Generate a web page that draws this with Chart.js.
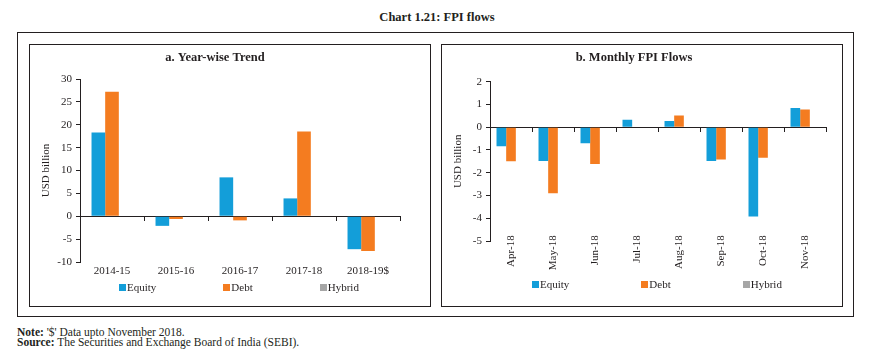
<!DOCTYPE html>
<html>
<head>
<meta charset="utf-8">
<script src="https://cdn.jsdelivr.net/npm/chart.js@4.4.0/dist/chart.umd.min.js"></script>
<style>
  body { margin: 0; background: #fff; font-family: "Liberation Serif", serif; color: #231f20; }
  #page { position: relative; width: 874px; height: 361px; overflow: hidden; }
  #title { position: absolute; left: 0; top: 10px; width: 874px; text-align: center; font-weight: bold; font-size: 12.5px; }
  #outer { position: absolute; left: 17px; top: 32px; width: 837px; height: 285px; border: 1px solid #231f20; box-sizing: border-box; }
  .panel { position: absolute; top: 44px; width: 402px; height: 263px; border: 1px solid #231f20; box-sizing: border-box; }
  #pa { left: 29px; }
  #pb { left: 441px; }
  .panel canvas { position: absolute; left: 0; top: 0; }
  .legend { position: absolute; display: flex; font-size: 11px; line-height: 12px; white-space: nowrap; }
  .legend span { display: flex; align-items: center; }
  .legend i { display: inline-block; width: 7px; height: 7px; margin-right: 1px; }
  #la { left: 89px; top: 236px; gap: 67px; }
  #lb { left: 90px; top: 233px; gap: 72px; }
  #notes { position: absolute; left: 17px; top: 327px; font-size: 11.5px; line-height: 10px; }
</style>
</head>
<body>
<div id="page">
  <div id="title">Chart 1.21: FPI flows</div>
  <div id="outer"></div>
  <div class="panel" id="pa"><canvas id="chartA" width="400" height="261"></canvas><div class="legend" id="la"></div></div>
  <div class="panel" id="pb"><canvas id="chartB" width="400" height="261"></canvas><div class="legend" id="lb"></div></div>
  <div id="notes">
    <div><b>Note:</b> '$' Data upto November 2018.</div>
    <div><b>Source:</b> The Securities and Exchange Board of India (SEBI).</div>
  </div>
</div>
<script>
// Year-wise data (USD billion)
const yearLabels = ['2014-15', '2015-16', '2016-17', '2017-18', '2018-19$'];
const yearEquity = [18.3, -2.1, 8.5, 3.9, -7.2];
const yearDebt = [27.2, -0.6, -0.9, 18.5, -7.6];
const yearHybrid = [0, 0, 0, 0, 0];
const yearTicks = [-10, 30, 5];

// Monthly data (USD billion)
const monthLabels = ['Apr-18', 'May-18', 'Jun-18', 'Jul-18', 'Aug-18', 'Sep-18', 'Oct-18', 'Nov-18'];
const monthEquity = [-0.84, -1.48, -0.7, 0.33, 0.27, -1.48, -3.92, 0.84];
const monthDebt = [-1.5, -2.9, -1.62, 0, 0.51, -1.42, -1.34, 0.78];
const monthHybrid = [0, 0, 0, 0, 0, 0, 0, 0];
const monthTicks = [-5, 2, 1];

const seriesNames = ['Equity', 'Debt', 'Hybrid'];
const seriesColors = ['#139ed9', '#f47c20', '#a6a6a6'];

const ink = '#231f20';
const serif = '"Liberation Serif", serif';

function makeChart(id, title, labels, values, ticks, lay) {
    return new Chart(document.getElementById(id), {
        type: 'bar',
        data: {
            labels: labels,
            datasets: values.map((v, i) => ({
                label: seriesNames[i],
                data: v,
                backgroundColor: seriesColors[i],
                borderWidth: 0,
                categoryPercentage: lay.catPct,
                barPercentage: 1
            }))
        },
        options: {
            responsive: false,
            animation: false,
            layout: { padding: { left: 0, right: lay.padRight, top: 0, bottom: lay.padBottom } },
            scales: {
                // zero line with the category tick marks
                x: {
                    type: 'category',
                    position: { y: 0 },
                    offset: true,
                    grid: { offset: true, drawOnChartArea: false, drawTicks: true, tickLength: 4, color: ink },
                    border: { display: true, color: ink, width: 1 },
                    ticks: { display: false },
                    afterFit: s => { s.height = 0; }
                },
                // category labels
                xl: {
                    type: 'category',
                    axis: 'x',
                    position: lay.labelPos,
                    offset: true,
                    grid: { display: false },
                    border: { display: false },
                    ticks: {
                        color: ink,
                        font: { family: serif, size: 11 },
                        padding: lay.labelPad,
                        minRotation: lay.rot,
                        maxRotation: lay.rot,
                        autoSkip: false
                    },
                    afterFit: s => { s.height = lay.xlHeight; }
                },
                y: {
                    min: ticks[0],
                    max: ticks[1],
                    grid: { drawOnChartArea: false, drawTicks: true, tickLength: 4, color: ink },
                    border: { display: true, color: ink, width: 1 },
                    ticks: { stepSize: ticks[2], color: ink, padding: 4, font: { family: serif, size: 11 } },
                    title: { display: true, text: 'USD billion', color: ink, font: { family: serif, size: 11 }, padding: { top: 10, bottom: 0 } },
                    afterFit: s => { s.width = lay.yWidth; }
                }
            },
            plugins: {
                legend: { display: false },
                tooltip: { enabled: false },
                title: {
                    display: true,
                    text: title,
                    color: ink,
                    font: { family: serif, size: 12.5, weight: 'bold' },
                    padding: { top: 5.5, bottom: lay.titleBottom }
                }
            }
        }
    });
}

function buildLegend(elId, chart) {
    const el = document.getElementById(elId);
    chart.data.datasets.forEach(ds => {
        const item = document.createElement('span');
        item.innerHTML = '<i style="background:' + ds.backgroundColor + '"></i>' + ds.label;
        el.appendChild(item);
    });
}

const chartA = makeChart('chartA', 'a. Year-wise Trend', yearLabels,
    [yearEquity, yearDebt, yearHybrid], yearTicks,
    { catPct: 0.64, padRight: 30, padBottom: 0, yWidth: 50, xlHeight: 44,
      labelPos: 'bottom', labelPad: -5, rot: 0, titleBottom: 13.5 });

const chartB = makeChart('chartB', 'b. Monthly FPI Flows', monthLabels,
    [monthEquity, monthDebt, monthHybrid], monthTicks,
    { catPct: 0.69, padRight: 16, padBottom: 65, yWidth: 48, xlHeight: 0,
      labelPos: { y: -4.4 }, labelPad: 0, rot: 90, titleBottom: 16.2 });

buildLegend('la', chartA);
buildLegend('lb', chartB);
</script>
</body>
</html>
